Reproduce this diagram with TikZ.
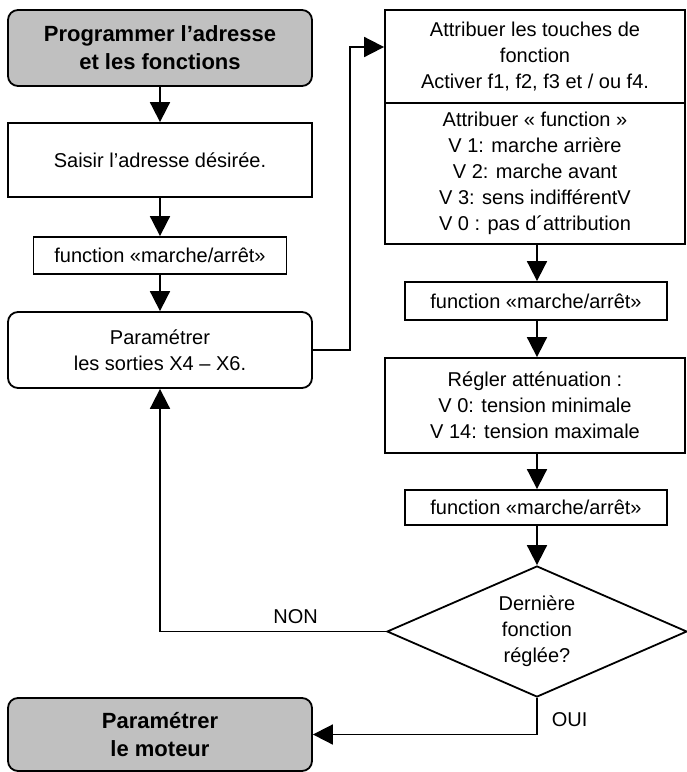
\documentclass[tikz,border=0pt]{standalone}
\usepackage{fontspec}
\setmainfont{Liberation Sans}
\usetikzlibrary{arrows.meta,shapes.geometric,calc}
\definecolor{boxgray}{RGB}{192,192,192}
\begin{document}
\begin{tikzpicture}[x=1pt,y=-1pt,
  every node/.style={font=\fontsize{20}{26}\selectfont},
  box/.style={draw, line width=1.8pt, inner sep=0pt, align=center},
  rbox/.style={box, rounded corners=10pt},
  term/.style={rbox, fill=boxgray, font=\fontsize{22}{28}\selectfont\bfseries},
  arr/.style={line width=1.8pt, -{Triangle[width=20pt,length=20pt]}},
  lbl/.style={inner sep=0pt}]
\useasboundingbox (0,0) rectangle (687,772);

\node[term, minimum width=304, minimum height=76] (b1) at (160,48) {Programmer l’adresse\\et les fonctions};
\node[box, minimum width=304, minimum height=74] (b2) at (160,160) {Saisir l’adresse désirée.};
\node[box, minimum width=253, minimum height=37] (b3) at (160,255.5) {function «marche/arrêt»};
\node[rbox, minimum width=304, minimum height=76] (b4) at (160,350) {Paramétrer\\les sorties X4 – X6.};
\node[term, minimum width=304, minimum height=73] (b5) at (160,734.5) {Paramétrer\\le moteur};

\node[box, minimum width=300, minimum height=93] (r1) at (535,56.5) {Attribuer les touches de\\fonction\\Activer f1, f2, f3 et / ou f4.};
\node[box, minimum width=300, minimum height=141] (r2) at (535,173.5) {Attribuer « function »\\V 1: marche arrière\\V 2: marche avant\\V 3: sens indifférentV\\V 0 : pas d´attribution};
\node[box, minimum width=262, minimum height=38] (f2) at (536,301) {function «marche/arrêt»};
\node[box, minimum width=300, minimum height=95] (rg) at (535,405.5) {Régler atténuation :\\V 0: tension minimale\\V 14: tension maximale};
\node[box, minimum width=262, minimum height=35] (f3) at (536,507.5) {function «marche/arrêt»};
\node[draw, diamond, line width=1.8pt, minimum width=300, minimum height=131, aspect=2.3, inner sep=0pt, align=center] (dm) at (537,631.5) {Dernière\\fonction\\réglée?};

\draw[arr] (b1) -- (b2);
\draw[arr] (b2) -- (b3);
\draw[arr] (b3) -- (b4);
\coordinate (k1) at (350,47);
\draw[arr] (b4.east) -| (k1) -- (k1 -| r1.west);
\draw[arr] (r2.south -| dm.north) -- (f2.north -| dm.north);
\draw[arr] (f2.south -| dm.north) -- (rg.north -| dm.north);
\draw[arr] (rg.south -| dm.north) -- (f3.north -| dm.north);
\draw[arr] (f3.south -| dm.north) -- (dm.north);
\draw[arr] (dm.west) -| (b4.south) node[lbl, pos=0.2, above=7pt] {NON};
\draw[arr] (dm.south) |- (b5.east) node[lbl, pos=0.3, right=14pt] {OUI};
\end{tikzpicture}
\end{document}
